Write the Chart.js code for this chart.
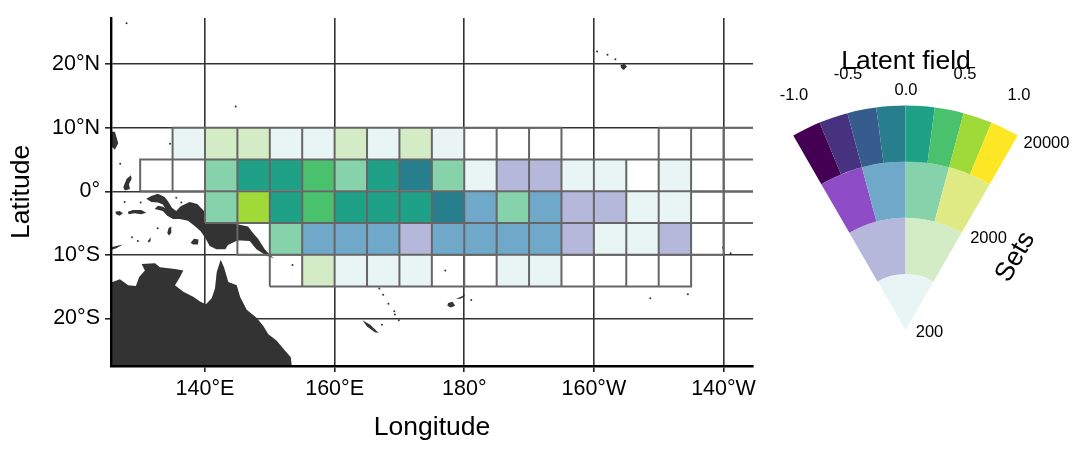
<!DOCTYPE html>
<html>
<head>
<meta charset="utf-8">
<title>Latent field</title>
<script src="https://cdn.jsdelivr.net/npm/chart.js@4/dist/chart.umd.min.js"></script>
<style>
  html, body { margin: 0; padding: 0; background: #fff; }
  #wrap { position: relative; width: 1076px; height: 449px; overflow: hidden; }
  #mapChart { position: absolute; left: 0; top: 0; }
  #keyChart { position: absolute; left: 770px; top: 0; }
</style>
</head>
<body>
<div id="wrap">
  <canvas id="mapChart" width="780" height="449"></canvas>
  <canvas id="keyChart" width="306" height="449"></canvas>
</div>
<script>
// ticks
var lonTicks = [140, 160, 180, 200, 220];
var lonLabels = ['140°E', '160°E', '180°', '160°W', '140°W'];
var latTicks = [-20, -10, 0, 10, 20];
var latLabels = ['20°S', '10°S', '0°', '10°N', '20°N'];

// key colours, one array per ring of the fan
var ring20000 = ['#440154', '#46327e', '#365c8d', '#277f8e', '#1fa187', '#4ac16d', '#a0da39', '#fde725'];
var ring6000 = ['#8e4cc7', '#6fa8c9', '#85d2ab', '#e0ea85'];
var ring2000 = ['#b5b8da', '#d4ecc5'];
var ring200 = ['#e9f5f5'];

// cell classes: W empty outlined cell, - no cell
var cellColor = {
  W: 'rgba(0,0,0,0)', L: ring200[0], P: ring2000[0], G: ring2000[1],
  B: ring6000[1], M: ring6000[2],
  D: ring20000[3], T: ring20000[4], N: ring20000[5], H: ring20000[6]
};

// 5 degree cells, south edge of the row and west edge of its first cell
var rowLat = [5, 0, -5, -10, -15];
var rowLon = [135, 130, 140, 145, 150];
var row5N  = ['L','G','G','L','L','G','L','G','L','W','W','W','-','-','-','W','W','W'];
var row0   = ['W','W','M','T','T','N','M','T','D','M','L','P','P','L','L','W','L','W','W'];
var row5S  = ['M','H','T','N','T','T','T','D','B','M','B','P','P','L','L','W','W'];
var row10S = ['W','M','B','B','B','P','B','B','B','B','P','L','L','P','W'];
var row15S = ['W','G','L','L','L','W','W','L','L','W','W','W','W'];
var rows = [row5N, row0, row5S, row10S, row15S];

// coastlines, [lon, lat]
var australia = [[124,-14.3],[125.75,-14.27],[126.87,-13.86],[128.15,-14.78],[129.34,-14.89],[129.85,-13.5],[130.73,-12.47],[130.22,-11.45],[132.28,-11.34],[133.05,-11.96],[135.37,-12.22],[136.65,-12.47],[136.14,-13.5],[135.37,-14.78],[136.65,-15.82],[138.19,-16.59],[139.23,-17.36],[140.15,-17.78],[141.03,-16.85],[141.54,-15.31],[141.81,-12.73],[142.42,-10.77],[142.93,-11.96],[143.6,-14.27],[144.9,-14.78],[145.41,-16.59],[146.44,-18.64],[148,-19.94],[149,-21.22],[149.78,-22.5],[151.07,-23.53],[152.36,-25.08],[153.24,-26.11],[153.39,-27.55],[153.5,-30],[124,-30]];
var newGuinea = [[130.94,-1.16],[131.71,-0.74],[132.74,-0.38],[133.77,-0.9],[134.29,-1.57],[134.9,-2.6],[135.57,-3.11],[136.24,-2.34],[137.63,-1.67],[138.82,-1.98],[139.95,-3.21],[141.49,-4.5],[145.35,-5.27],[146.64,-5.53],[147.41,-6.56],[148.19,-7.48],[149.22,-9.13],[149.99,-10],[150.61,-10.52],[149.73,-10.21],[148.96,-9.8],[147.93,-9.13],[146.9,-7.84],[145.61,-7.74],[144.99,-7.74],[143.55,-8.46],[143.14,-9.13],[141.75,-9.13],[140.72,-8.62],[140.05,-7.33],[139.33,-6.3],[138.51,-5.53],[137.38,-4.65],[136.09,-4.35],[135.06,-4.35],[134.18,-3.83],[133.51,-3.11],[132.23,-2.8],[132.74,-2.29],[133.51,-2.44],[133.87,-2.7],[133.51,-2.08],[132.74,-1.77],[131.71,-1.67]];
var seram = [[128.11,-3.21],[128.88,-2.96],[130.17,-2.96],[130.94,-3.37],[130.17,-3.63],[129.14,-3.47],[128.21,-3.63]];
var buru = [[126.15,-3.21],[126.82,-3.11],[127.34,-3.47],[126.82,-3.83],[126.31,-3.63]];
var timor = [[125,-8.9],[126.31,-8.62],[127.34,-8.36],[126.31,-8.98],[125,-9.4]];
var aru = [[134.18,-6.56],[134.39,-5.79],[134.8,-5.53],[134.8,-6.56],[134.44,-6.97]];
var tanimbar = [[131.2,-7.84],[131.61,-7.23],[131.61,-7.84],[131.3,-8.1]];
var dolak = [[137.79,-8.1],[138.3,-7.48],[139,-7.59],[138.92,-8.36],[138.15,-8.36]];
var halmahera = [[127.39,0.64],[127.9,1.93],[128.57,2.54],[128.68,1.93],[128.27,1.15],[128.42,0.38],[127.65,0.12]];
var mindanao = [[125,9.4],[126.1,9.38],[126.62,7.58],[126.1,6.55],[125.59,7.07],[125,7.2]];
var hawaii = [[204.1,19.9],[204.7,20.1],[205.1,19.6],[204.6,19.1],[204.2,19.4]];
var newCaledonia = [[164.3,-20.3],[165.5,-21],[166.8,-22.3],[166.2,-22.2],[165,-21.3]];
var vitiLevu = [[177.5,-17.6],[178.2,-17.4],[178.6,-18],[177.9,-18.3],[177.4,-18]];
var vanuaLevu = [[178.7,-16.9],[179.5,-16.6],[180.1,-16.2],[180,-16.6],[179.4,-16.9]];
var landShapes = [australia, newGuinea, seram, buru, timor, aru, tanimbar, dolak, halmahera, mindanao, hawaii, newCaledonia, vitiLevu, vanuaLevu];

// islands too small to trace
var islets = [[127.9,26.46],[144.74,13.35],[134.6,7.5],[126.92,4.34],[203.32,20.8],[202.1,21.5],[200.5,22],
  [166.9,-15.3],[167.5,-16.3],[168.3,-17.7],[169.2,-18.9],[169.3,-19.4],[169.9,-20.3],[167.3,-21],
  [177.07,-12.47],[208.7,-16.85],[214.5,-16.2],[219.9,-8.87],[221.1,-9.75],[181.08,-17.1],[153.5,-11.6],
  [132.7,-5.8],[127.6,-1.67],[130.07,-1.77],[135.57,-1],[136.35,-1.77],[129.65,-7.84],[128.73,-7.23]];

// key labels
var keyFieldLabels = ['-1.0', '-0.5', '0.0', '0.5', '1.0'];
var keySetLabels = ['200', '2000', '20000'];

//SETUP
var cellPoints = [];
var cellColors = [];
var outlinePoints = [];
rows.forEach(function (row, r) {
  row.forEach(function (c, i) {
    if (c === '-') return;
    var lon = rowLon[r] + i * 5;
    var lat = rowLat[r];
    cellPoints.push({ x: lon + 2.5, y: [lat, lat + 5] });
    cellColors.push(cellColor[c]);
    outlinePoints.push({ x: lon, y: lat }, { x: lon + 5, y: lat }, { x: lon + 5, y: lat + 5 }, { x: lon, y: lat + 5 }, { x: lon, y: lat }, { x: NaN, y: NaN });
  });
});

function toPoints(list) {
  return list.map(function (p) { return { x: p[0], y: p[1] }; });
}

var mapDatasets = [
  {
    type: 'scatter', data: outlinePoints, showLine: true, borderColor: '#666666', borderWidth: 2,
    pointRadius: 0, order: 1, clip: 0, spanGaps: false
  },
  {
    type: 'bar', data: cellPoints, backgroundColor: cellColors, borderWidth: 0, inflateAmount: 0,
    barPercentage: 1, categoryPercentage: 1, order: 2
  },
  {
    type: 'scatter', data: toPoints(islets), pointRadius: 1, pointBorderWidth: 0,
    pointBackgroundColor: '#333333', order: 3
  }
];
landShapes.forEach(function (shape) {
  mapDatasets.push({
    type: 'scatter', data: toPoints(shape), showLine: true, fill: 'shape', backgroundColor: '#333333',
    borderWidth: 0, pointRadius: 0, tension: 0, order: 3
  });
});

var fontName = '"Liberation Sans", Arial, sans-serif';

//CONFIG
var mapConfig = {
  type: 'bar',
  data: { datasets: mapDatasets },
  options: {
    responsive: false,
    animation: false,
    layout: { padding: { top: 11, right: 27 } },
    plugins: { legend: { display: false }, tooltip: { enabled: false } },
    scales: {
      x: {
        type: 'linear', min: 125.5, max: 224.55, offset: false,
        grid: { offset: false, color: '#333333', lineWidth: 1.6, tickLength: 6, tickColor: '#222222' },
        border: { color: '#000000', width: 2.4, z: 1 },
        afterBuildTicks: function (s) { s.ticks = lonTicks.map(function (v) { return { value: v }; }); },
        afterFit: function (s) { s.height = 83; },
        ticks: {
          color: '#000', font: { family: fontName, size: 21.5 }, padding: 4, maxRotation: 0, autoSkip: false,
          callback: function (v, i) { return lonLabels[i]; }
        },
        title: { display: true, text: 'Longitude', color: '#000', font: { family: fontName, size: 26.5 }, padding: { top: 0, bottom: 5 } }
      },
      y: {
        type: 'linear', min: -27.5, max: 27.3,
        grid: { color: '#333333', lineWidth: 1.6, tickLength: 6, tickColor: '#222222' },
        border: { color: '#000000', width: 2.4, z: 1 },
        afterBuildTicks: function (s) { s.ticks = latTicks.map(function (v) { return { value: v }; }); },
        afterFit: function (s) { s.width = 111; },
        ticks: {
          color: '#000', font: { family: fontName, size: 21.5 }, padding: 5, autoSkip: false,
          callback: function (v, i) { return latLabels[i]; }
        },
        title: { display: true, text: 'Latitude', color: '#000', font: { family: fontName, size: 26.5 }, padding: { top: 6, bottom: 0 } }
      }
    }
  }
};

// text round the fan, placed from the arc's own centre and radius
var keyText = {
  id: 'keyText',
  afterDraw: function (chart) {
    var arc = chart.getDatasetMeta(0).data[0];
    var cx = arc.x, cy = arc.y, r = arc.outerRadius;
    var ctx = chart.ctx;
    ctx.save();
    ctx.fillStyle = '#000';
    ctx.textAlign = 'center';
    ctx.textBaseline = 'middle';
    ctx.font = '26.5px ' + fontName;
    ctx.fillText('Latent field', cx + 0.5, cy - r - 44);
    ctx.font = '16.5px ' + fontName;
    var fieldDx = [-111.5, -57.5, 0.5, 59.5, 113.5];
    var fieldDy = [10, 31, 15 + 24, 31, 10];
    keyFieldLabels.forEach(function (t, i) {
      ctx.fillText(t, cx + fieldDx[i], cy - r - fieldDy[i] + (i === 2 ? 24 : 0));
    });
    var setDx = [24, 83, 141];
    var setDy = [2, -91.5, -187];
    keySetLabels.forEach(function (t, i) {
      ctx.fillText(t, cx + setDx[i], cy + setDy[i]);
    });
    ctx.font = '26.5px ' + fontName;
    ctx.translate(cx + 110, cy - 73);
    ctx.rotate(-Math.PI / 3);
    ctx.fillText('Sets', 0, 0);
    ctx.restore();
  }
};

function ringDataset(colors) {
  return { data: colors.map(function () { return 1; }), backgroundColor: colors, borderWidth: 0 };
}

var keyConfig = {
  type: 'doughnut',
  data: { datasets: [ringDataset(ring20000), ringDataset(ring6000), ringDataset(ring2000), ringDataset(ring200)] },
  options: {
    responsive: false,
    animation: false,
    rotation: -30,
    circumference: 60,
    cutout: 0,
    layout: { padding: { left: 23.25, right: 58.25, top: 105.5, bottom: 119 } },
    plugins: { legend: { display: false }, tooltip: { enabled: false } }
  },
  plugins: [keyText]
};

//Render
var mapChart = new Chart(document.getElementById('mapChart'), mapConfig);
var keyChart = new Chart(document.getElementById('keyChart'), keyConfig);
</script>
</body>
</html>
